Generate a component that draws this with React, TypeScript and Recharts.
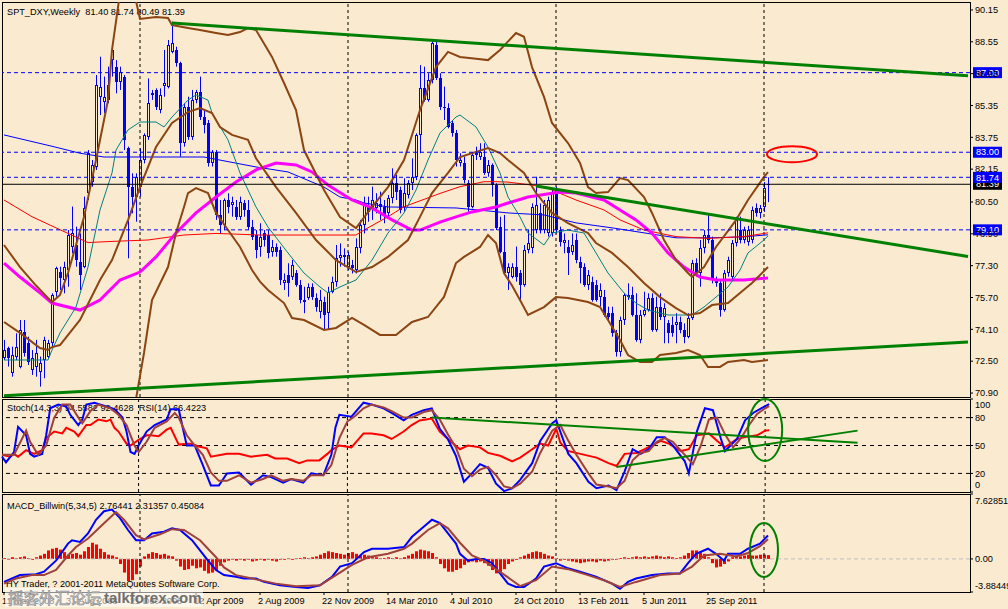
import { ComposedChart, Bar, Line, XAxis, YAxis, ReferenceLine, ReferenceDot } from 'recharts'

const BG = '#FAEAD0'
const BLUE = '#0000FF'
const BROWN = '#8B4513'
const GREEN = '#008000'
const FONT = '"Liberation Sans", Arial, sans-serif'
const FS = 9.2

// weekly OHLC, 11 May 2008 .. Jan 2012
const OPEN = [
  72.64, 73.15, 71.89, 72.73, 72.23, 73.98, 73.40, 72.06, 72.23, 71.97,
  72.56, 72.73, 73.40, 75.99, 77.00, 76.58, 77.08, 78.26, 78.34, 77.50,
  77.25, 80.94, 81.52, 82.28, 85.79, 85.54, 85.63, 87.63, 87.30, 86.55,
  86.80, 83.20, 81.27, 80.77, 81.27, 82.61, 83.78, 85.88, 86.13, 85.12,
  86.33, 86.30, 88.05, 88.14, 87.47, 83.45, 85.29, 83.78, 85.63, 86.04,
  84.79, 84.45, 82.44, 83.03, 79.85, 79.34, 80.60, 80.35, 80.27, 79.76,
  80.43, 80.10, 79.26, 78.84, 78.26, 78.92, 78.84, 78.00, 78.26, 78.09,
  76.41, 76.83, 76.75, 76.91, 76.33, 75.49, 75.66, 76.24, 75.66, 74.99,
  75.49, 74.91, 75.99, 76.50, 77.67, 77.84, 77.25, 77.33, 77.08, 78.17,
  79.34, 80.27, 80.18, 80.18, 80.40, 80.27, 79.93, 80.68, 81.44, 81.10,
  80.27, 80.85, 81.44, 81.77, 83.87, 86.21, 85.63, 86.63, 88.39, 86.71,
  85.21, 85.21, 84.45, 83.95, 82.44, 82.44, 81.44, 80.27, 82.95, 82.78,
  82.78, 81.94, 82.36, 81.35, 79.26, 78.00, 76.91, 76.75, 77.25, 76.91,
  76.33, 78.09, 78.17, 79.09, 79.93, 79.09, 78.92, 78.92, 81.10, 79.09,
  78.42, 78.26, 78.00, 78.59, 77.50, 77.25, 76.33, 76.50, 76.33, 75.74,
  75.74, 74.91, 74.91, 73.90, 72.98, 74.57, 75.83, 75.83, 74.82, 73.57,
  74.82, 75.07, 75.66, 74.07, 75.24, 74.74, 74.40, 74.32, 74.32, 74.49,
  74.07, 73.73, 74.65, 77.42, 76.91, 78.17, 78.84, 78.59, 76.58, 76.41,
  75.07, 76.91, 76.75, 78.42, 79.09, 78.59, 78.49, 78.59, 80.18, 79.93,
  80.27, 81.40,
]
const HIGH = [
  73.57, 73.23, 73.23, 73.90, 74.57, 74.57, 73.73, 73.06, 73.57, 72.73,
  73.73, 73.57, 75.91, 77.25, 77.25, 77.50, 79.09, 80.27, 79.26, 78.92,
  80.77, 83.11, 82.61, 86.88, 87.80, 86.80, 87.30, 88.22, 87.63, 87.30,
  86.88, 83.28, 81.94, 81.94, 83.20, 83.95, 86.71, 86.13, 86.21, 86.21,
  88.14, 88.64, 89.56, 88.30, 87.55, 85.46, 85.79, 86.13, 86.13, 86.80,
  85.12, 84.62, 83.11, 83.11, 80.60, 80.68, 80.94, 80.77, 80.60, 80.77,
  80.60, 80.60, 79.60, 79.09, 79.43, 79.09, 79.09, 78.59, 78.42, 78.26,
  76.91, 77.42, 77.59, 77.08, 76.58, 76.24, 76.41, 76.41, 75.91, 76.08,
  75.74, 76.24, 76.75, 78.34, 78.42, 78.17, 78.00, 77.59, 78.67, 79.60,
  80.77, 80.77, 81.27, 80.94, 81.02, 80.60, 80.85, 82.19, 81.86, 81.27,
  81.69, 81.60, 82.69, 83.95, 87.38, 87.30, 86.97, 88.64, 88.64, 86.97,
  86.30, 85.46, 84.62, 84.12, 82.95, 82.78, 81.60, 82.95, 83.28, 83.45,
  83.45, 82.61, 82.44, 81.44, 79.76, 79.85, 77.42, 77.42, 78.26, 77.08,
  78.34, 79.09, 80.43, 81.77, 80.43, 80.60, 80.77, 81.19, 81.27, 79.26,
  78.92, 78.59, 78.92, 78.92, 77.75, 77.42, 77.08, 76.75, 76.58, 76.41,
  76.08, 75.24, 75.24, 74.07, 74.74, 75.91, 76.41, 76.24, 75.91, 75.07,
  75.99, 75.91, 75.91, 75.74, 75.91, 75.41, 74.57, 74.74, 74.91, 74.74,
  74.40, 74.91, 77.59, 77.67, 78.59, 79.09, 79.85, 78.76, 76.75, 76.58,
  77.08, 77.75, 78.59, 79.76, 79.76, 79.26, 79.30, 80.27, 80.43, 80.35,
  81.50, 81.74,
]
const LOW = [
  72.56, 72.23, 71.72, 72.56, 72.14, 72.73, 72.31, 71.81, 71.72, 71.22,
  71.64, 72.64, 73.23, 75.74, 76.08, 75.91, 76.24, 77.92, 77.25, 76.08,
  77.17, 80.60, 81.27, 82.11, 84.87, 84.96, 85.46, 86.80, 85.96, 86.13,
  83.11, 77.67, 79.93, 79.51, 80.77, 82.44, 83.62, 85.63, 85.12, 84.96,
  85.79, 86.21, 87.97, 87.30, 82.78, 83.28, 83.62, 83.62, 85.46, 84.62,
  83.95, 82.28, 82.28, 79.60, 78.92, 79.09, 79.93, 79.76, 79.60, 79.60,
  79.76, 79.09, 78.59, 77.67, 77.75, 78.26, 77.67, 77.75, 77.75, 76.33,
  76.08, 75.74, 76.58, 76.24, 75.41, 74.91, 75.58, 75.58, 74.99, 74.65,
  74.07, 74.07, 75.91, 76.24, 77.25, 77.25, 77.08, 76.91, 76.91, 77.92,
  78.92, 79.51, 79.60, 79.93, 79.60, 79.43, 79.76, 80.43, 80.60, 79.93,
  80.01, 80.68, 81.10, 81.60, 82.95, 85.54, 85.54, 86.46, 86.63, 85.12,
  84.62, 84.20, 83.78, 82.28, 82.28, 81.44, 80.01, 80.18, 82.61, 82.61,
  81.86, 81.77, 80.77, 79.09, 77.92, 76.83, 76.08, 76.66, 76.50, 75.58,
  76.24, 77.92, 77.92, 78.92, 78.92, 78.92, 78.76, 78.76, 78.92, 78.26,
  77.92, 76.83, 77.84, 77.42, 76.41, 76.24, 76.08, 75.49, 75.49, 75.24,
  74.74, 74.57, 73.73, 72.73, 72.73, 74.32, 75.58, 74.74, 73.48, 73.40,
  74.74, 74.99, 73.98, 73.98, 74.57, 73.40, 73.40, 73.73, 73.40, 73.90,
  73.40, 73.65, 74.57, 76.75, 76.24, 77.92, 78.42, 76.41, 76.24, 74.74,
  74.99, 76.75, 76.58, 78.26, 78.42, 78.42, 78.30, 78.42, 79.76, 79.68,
  80.00, 80.49,
]
const CLOSE = [
  73.06, 72.64, 72.81, 73.23, 74.07, 72.90, 72.48, 72.64, 72.90, 72.40,
  73.57, 73.40, 75.83, 77.17, 76.66, 77.25, 78.84, 78.92, 77.59, 76.83,
  80.18, 82.95, 82.36, 86.38, 86.30, 85.79, 86.38, 88.14, 86.55, 87.05,
  83.62, 81.27, 80.77, 81.77, 82.61, 83.87, 85.46, 85.96, 85.29, 85.88,
  86.46, 88.39, 88.47, 87.47, 83.45, 85.29, 83.78, 85.63, 86.04, 84.79,
  84.37, 82.44, 83.03, 79.85, 79.34, 80.60, 80.27, 80.52, 79.76, 80.52,
  80.10, 79.26, 78.76, 78.09, 78.76, 78.59, 77.92, 78.26, 78.00, 76.58,
  76.58, 76.41, 77.33, 76.33, 75.58, 75.58, 76.24, 75.74, 75.24, 75.58,
  74.82, 75.99, 76.50, 77.67, 77.84, 77.75, 77.84, 77.17, 78.26, 79.34,
  80.43, 80.01, 80.60, 80.43, 80.27, 79.85, 80.68, 81.44, 81.02, 80.10,
  80.94, 81.44, 81.77, 83.87, 86.21, 85.63, 86.63, 88.47, 86.71, 85.29,
  85.29, 84.28, 83.95, 82.61, 82.61, 81.60, 80.27, 82.86, 82.86, 83.03,
  81.94, 82.36, 81.35, 79.18, 78.00, 76.91, 77.25, 77.25, 76.75, 76.33,
  78.09, 78.42, 80.27, 80.35, 79.09, 80.35, 80.60, 81.02, 79.09, 78.51,
  78.59, 77.92, 78.34, 77.59, 77.17, 76.33, 76.83, 75.58, 75.58, 76.08,
  74.82, 74.74, 73.90, 72.98, 74.57, 75.83, 75.74, 74.82, 73.57, 74.82,
  75.07, 75.66, 74.07, 75.24, 74.74, 75.16, 73.90, 73.90, 74.49, 74.07,
  73.73, 74.65, 77.42, 76.91, 78.17, 78.84, 78.59, 76.58, 76.41, 75.07,
  76.91, 77.59, 78.42, 79.60, 78.59, 79.09, 79.09, 80.10, 79.93, 80.18,
  81.19, 81.39,
]

// indicator lines: [bar, value]
const BB_UPPER = [[0,78.34],[4,77.23],[8,76.3],[12,75.47],[14,75.83],[16,76.93],[20,79.74],[23,82.61],[26,85.62],[27,88.14],[29,91.0],[31,91.6],[33,90.6],[34,89.7],[38,89.8],[41,89.75],[42,89.39],[46,89.24],[49,89.14],[53,88.99],[56,88.89],[59,89.04],[61,89.24],[63,89.14],[67,87.79],[70,86.48],[73,85.12],[75,83.11],[80,81.1],[84,79.74],[88,79.19],[92,80.25],[96,81.25],[100,82.61],[104,85.12],[108,87.28],[111,88.04],[114,87.79],[118,87.7],[121,87.63],[124,88.14],[128,88.99],[130,88.8],[132,87.28],[135,85.78],[137,84.47],[141,83.46],[144,82.46],[146,81.25],[148,80.95],[151,81.0],[154,81.7],[156,81.6],[160,80.75],[162,79.95],[165,78.59],[168,77.58],[171,76.93],[172,76.73],[175,77.23],[178,78.24],[183,79.59],[186,80.6],[190,81.76],[191,82.0]]
const BB_MID = [[0,74.47],[4,73.92],[9,73.16],[11,73.06],[12,73.21],[14,73.31],[19,74.57],[24,76.58],[27,77.58],[31,79.59],[34,81.25],[38,83.26],[42,84.47],[46,85.02],[49,85.22],[52,84.97],[54,84.27],[57,83.87],[61,83.62],[63,82.7],[68,81.25],[73,79.95],[78,78.59],[83,77.58],[88,76.98],[92,77.23],[96,77.74],[101,78.59],[104,79.75],[107,80.95],[111,81.96],[114,82.76],[121,83.21],[124,82.96],[126,82.61],[130,81.96],[133,80.95],[137,79.95],[141,79.44],[146,78.94],[148,78.44],[152,77.94],[156,77.23],[160,76.43],[164,75.72],[168,75.17],[171,74.82],[174,74.92],[177,75.32],[181,75.42],[184,75.93],[187,76.43],[191,77.23]]
const BB_LOWER = [[30,68.0],[33,70.6],[35,72.91],[37,75.57],[41,77.23],[43,78.94],[45,80.25],[46,80.95],[48,81.2],[51,80.95],[53,79.95],[56,79.09],[59,78.24],[62,77.08],[64,76.5],[66,76.08],[70,75.42],[72,74.67],[75,74.57],[80,74.07],[83,74.17],[87,74.67],[90,74.32],[94,73.82],[98,73.82],[102,74.47],[106,74.72],[110,75.73],[113,77.43],[115,77.74],[119,78.24],[121,78.84],[123,78.44],[125,76.93],[127,76.3],[129,75.57],[131,74.82],[135,75.22],[138,75.72],[141,75.67],[146,75.47],[149,75.22],[151,74.57],[154,73.56],[156,72.81],[159,72.46],[162,72.46],[164,72.81],[168,72.91],[171,73.06],[174,72.81],[176,72.21],[179,72.21],[181,72.46],[185,72.56],[187,72.46],[191,72.56]]
const MA_TEAL = [[0,72.56],[11,72.56],[12,73.06],[14,73.92],[18,75.22],[21,77.23],[24,80.1],[27,81.96],[28,83.11],[31,84.12],[34,84.52],[38,84.52],[40,84.27],[42,84.77],[46,85.62],[48,85.88],[51,85.62],[52,84.97],[56,83.62],[59,81.96],[63,80.25],[66,79.24],[71,77.94],[75,76.93],[79,76.23],[81,75.93],[84,76.23],[88,76.58],[92,77.58],[96,78.94],[100,79.95],[103,81.1],[106,82.61],[109,83.97],[113,84.77],[114,84.87],[118,84.27],[121,83.26],[124,81.96],[126,80.75],[129,79.75],[131,78.94],[135,78.34],[137,78.94],[141,79.09],[145,78.94],[148,77.94],[151,76.93],[155,75.93],[158,75.42],[161,75.07],[166,74.82],[172,74.82],[175,75.22],[178,75.72],[181,76.23],[184,77.08],[186,77.94],[190,78.59],[191,78.8]]
const MA_MAGENTA = [[0,77.43],[4,76.73],[9,75.93],[12,75.42],[19,75.07],[24,75.57],[29,76.58],[34,76.98],[38,77.74],[43,78.94],[48,79.95],[53,80.75],[58,81.5],[63,82.11],[68,82.46],[73,82.36],[77,82.01],[81,81.35],[87,80.6],[92,80.2],[97,79.6],[102,79.09],[104,79.09],[109,79.49],[113,79.75],[117,80.0],[123,80.25],[126,80.45],[131,80.75],[139,81.0],[143,80.95],[150,80.6],[154,80.1],[158,79.6],[162,78.94],[166,77.94],[170,77.23],[174,76.73],[178,76.58],[185,76.58],[191,76.68]]
const MA_RED = [[0,80.6],[7,79.76],[16,78.92],[21,78.46],[26,78.51],[36,78.59],[45,78.84],[53,78.92],[64,78.84],[88,78.84],[90,79.09],[96,79.76],[100,80.26],[109,80.93],[114,81.27],[120,81.52],[123,81.52],[126,81.5],[135,81.27],[143,80.6],[150,80.1],[154,79.6],[160,79.09],[168,78.76],[176,78.67],[185,78.76],[191,78.95]]
const MA_BLUE = [[0,83.87],[12,83.3],[19,82.95],[25,82.76],[50,82.76],[63,82.26],[71,82.01],[80,81.25],[84,80.75],[88,80.6],[90,80.45],[96,80.25],[113,80.2],[121,80.05],[126,79.95],[135,79.85],[143,79.45],[152,79.2],[160,78.95],[168,78.7],[177,78.7],[185,78.75],[191,78.85]]

const STOCH_MAIN = [[0,38],[1,32],[3,43],[4,70],[6,61],[7,41],[8,38],[10,41],[11,61],[12,90],[14,94],[16,92],[17,83],[19,72],[20,78],[21,94],[23,96],[26,92],[28,89],[30,80],[31,65],[32,43],[33,41],[34,50],[36,65],[38,72],[41,78],[42,89],[44,89],[45,69],[46,50],[48,50],[50,29],[51,18],[52,7],[54,7],[56,20],[59,21],[62,8],[65,18],[67,16],[70,10],[72,14],[75,10],[77,20],[80,18],[82,40],[83,69],[84,83],[87,81],[90,96],[92,94],[95,90],[97,85],[100,77],[102,83],[105,88],[107,90],[109,68],[111,57],[113,39],[115,11],[117,20],[119,30],[121,26],[123,9],[125,1],[127,4],[129,13],[132,31],[134,55],[137,74],[138,77],[139,65],[141,41],[143,31],[146,11],[148,4],[151,7],[153,2],[155,22],[157,46],[159,41],[161,46],[163,59],[165,59],[167,50],[170,33],[171,20],[173,65],[175,90],[177,88],[179,57],[180,44],[183,57],[185,77],[187,85],[189,90],[191,94.56]]
const STOCH_SIGNAL = [[0,40],[3,40],[6,66],[7,54],[9,40],[11,50],[13,80],[15,94],[17,94],[19,80],[20,74],[22,87],[24,94],[27,90],[29,83],[31,72],[33,50],[34,43],[36,54],[38,69],[41,76],[43,85],[44,80],[46,61],[48,50],[50,40],[52,21],[54,12],[56,12],[59,18],[62,10],[65,14],[67,18],[70,12],[72,14],[75,12],[77,18],[80,18],[82,29],[84,58],[86,76],[88,82],[90,90],[92,94],[95,91],[97,87],[100,80],[102,80],[105,86],[107,88],[109,78],[111,62],[113,48],[115,25],[117,17],[119,24],[121,27],[123,18],[125,6],[127,4],[129,9],[132,22],[134,42],[137,66],[139,72],[141,55],[143,40],[146,20],[148,8],[151,6],[153,4],[155,12],[157,34],[159,42],[161,44],[163,54],[165,58],[167,54],[170,40],[172,30],[174,50],[176,78],[178,80],[180,62],[182,48],[184,58],[186,72],[188,84],[190,90],[191,92.46]]
const RSI = [[0,40],[2,38],[3,41],[4,38],[6,45],[8,41],[10,45],[11,58],[13,65],[15,63],[16,69],[18,65],[19,60],[21,72],[22,72],[24,78],[26,76],[27,78],[28,69],[29,65],[31,52],[32,50],[34,56],[36,61],[37,61],[39,60],[41,67],[42,69],[44,51],[46,52],[47,52],[49,49],[51,47],[52,38],[56,41],[59,41],[62,38],[66,40],[68,36],[71,36],[74,31],[76,34],[79,34],[81,41],[82,45],[84,50],[87,48],[90,63],[92,63],[95,61],[97,57],[100,65],[102,72],[104,77],[107,79],[109,65],[111,57],[114,46],[116,50],[119,48],[121,42],[124,39],[127,33],[129,37],[132,46],[134,52],[136,50],[138,68],[139,53],[141,44],[144,41],[148,37],[151,31],[153,28],[155,41],[158,42],[160,46],[164,55],[166,52],[169,44],[171,46],[173,61],[176,63],[178,55],[180,48],[183,57],[185,59],[188,61],[190,66],[191,66.42]]

const MACD_MAIN = [[0,-2.7],[2,-2.3],[4,-1.9],[8,-1.8],[10,-1.5],[13,-0.2],[16,1.8],[17,2.2],[19,2.0],[21,3.0],[23,4.6],[25,5.6],[27,5.8],[29,4.8],[31,3.4],[33,2.2],[35,2.2],[37,3.0],[40,3.2],[42,3.6],[44,3.4],[47,2.2],[49,1.0],[51,-0.2],[53,-1.3],[55,-1.9],[58,-2.1],[60,-2.3],[63,-2.3],[65,-2.7],[69,-3.1],[73,-3.3],[76,-3.4],[79,-3.1],[82,-2.1],[84,-0.9],[87,-0.5],[90,0.8],[92,1.2],[96,1.2],[100,1.4],[102,2.6],[105,3.8],[107,4.6],[109,4.2],[111,3.0],[113,1.8],[114,0.6],[116,-0.2],[118,0.0],[120,0.0],[122,-0.5],[124,-1.7],[126,-2.9],[128,-3.3],[130,-3.3],[133,-2.3],[135,-0.9],[138,-0.5],[141,-1.1],[144,-1.5],[148,-2.1],[152,-2.9],[154,-3.5],[156,-2.7],[158,-2.3],[162,-1.9],[166,-1.7],[169,-1.7],[171,-0.5],[173,0.6],[176,1.2],[178,0.6],[180,-0.2],[181,0.6],[184,0.6],[186,1.2],[189,1.8],[191,2.76]]
const MACD_SIGNAL = [[0,-2.9],[3,-2.3],[7,-1.9],[10,-1.9],[13,-1.3],[16,0.4],[18,1.4],[21,2.4],[25,4.2],[28,5.5],[30,4.6],[33,2.8],[35,2.3],[39,2.9],[42,3.5],[45,3.4],[49,2.2],[53,0.2],[55,-1.0],[58,-1.9],[63,-2.4],[68,-2.9],[73,-3.2],[79,-3.1],[83,-1.9],[87,-0.7],[91,0.2],[96,0.6],[100,1.2],[102,1.8],[106,3.4],[109,4.2],[111,3.6],[114,1.9],[117,0.4],[120,-0.2],[123,-1.2],[127,-2.5],[129,-3.2],[133,-2.5],[137,-0.9],[141,-1.2],[146,-1.9],[150,-2.5],[154,-3.3],[158,-2.7],[164,-1.9],[169,-1.7],[172,-0.9],[175,0.4],[179,0.6],[183,0.3],[186,0.7],[189,1.5],[191,2.31]]
const MACD_HIST = [
  0.1, -0.1, 0.2, 0.1, 0.2, 0.3, 0.1, -0.1, 0.2, 0.4,
  0.6, 1.0, 1.2, 1.3, 1.1, 0.8, 0.5, 0.6, 0.7, 0.5,
  0.9, 1.4, 1.9, 1.7, 1.2, 0.8, 0.5, 0.4, 0.2, -0.6,
  -1.6, -2.6, -2.5, -1.8, -0.9, 0.3, 0.6, 0.8, 0.7, 0.5,
  0.6, 0.4, 0.3, -0.2, -0.9, -1.3, -1.2, -0.8, -1.1, -1.0,
  -1.4, -1.7, -1.6, -1.3, -0.8, -0.4, -0.2, -0.1, -0.2, -0.1,
  -0.2, -0.1, -0.3, -0.2, -0.1, -0.2, -0.1, -0.2, -0.3, -0.1,
  -0.1, 0.1, -0.1, 0.1, 0.1, 0.2, 0.1, 0.2, 0.3, 0.5,
  0.7, 0.9, 0.8, 0.7, 0.6, 0.5, 0.7, 0.8, 0.6, 0.4,
  0.5, 0.4, 0.3, 0.2, 0.1, 0.1, 0.2, 0.1, 0.2, 0.1,
  0.2, 0.4, 0.6, 0.9, 1.1, 1.0, 0.9, 0.7, 0.2, -0.6,
  -1.1, -1.5, -1.5, -1.3, -1.1, -0.7, -0.4, -0.3, -0.4, -0.3,
  -0.5, -0.8, -1.3, -1.7, -1.6, -1.2, -0.6, -0.3, -0.1, 0.2,
  0.4, 0.6, 0.8, 0.9, 0.8, 0.6, 0.4, 0.3, 0.1, -0.2,
  -0.1, -0.2, -0.3, -0.4, -0.5, -0.4, -0.3, -0.3, -0.4, -0.2,
  -0.3, -0.2, -0.1, -0.1, 0.1, 0.2, 0.1, 0.2, 0.3, 0.2,
  0.3, 0.2, 0.3, 0.4, 0.3, 0.2, 0.3, 0.2, 0.1, 0.2,
  0.4, 0.7, 1.0, 1.0, 0.8, 0.6, 0.2, -0.5, -1.0, -0.9,
  -0.6, -0.3, 0.2, 0.4, 0.3, 0.4, 0.5, 0.4, 0.4, 0.5,
  0.5, 0.45,
]

const PRICE_TICKS = [90.15, 88.55, 86.95, 85.35, 83.75, 82.15, 80.5, 78.9, 77.3, 75.7, 74.1, 72.5, 70.9]
const STOCH_TICKS = [0, 20, 50, 80, 100]
const MACD_TICKS = [-3.88449, 0, 7.62851]
const DATE_TICKS = [0, 16, 32, 48, 64, 80, 96, 112, 128, 144, 160, 176]
const DATE_LABELS = ['11 May 2008', '31 Aug 2008', '21 Dec 2008', '12 Apr 2009', '2 Aug 2009', '22 Nov 2009', '14 Mar 2010', '4 Jul 2010', '24 Oct 2010', '13 Feb 2011', '5 Jun 2011', '25 Sep 2011']
const LEVELS = [87.0, 83.0, 81.74, 79.1]
const LAST_PRICE = 81.39
const SEPARATORS = [34, 86, 138, 190]
const TREND_TOP = [[42, 89.49], [241, 86.84]]
const TREND_BOTTOM = [[0, 70.76], [241, 73.46]]
const TREND_MID = [[133, 81.3], [241, 77.76]]
const STOCH_TREND_A = [[107, 80], [213, 53]]
const STOCH_TREND_B = [[153, 27], [213, 66]]

const SLOTS = 242
const rows: Record<string, any>[] = Array.from({ length: SLOTS }, (_, i) => ({ i }))
OPEN.forEach((o, i) => Object.assign(rows[i], { o, c: CLOSE[i], range: [LOW[i], HIGH[i]], hist: MACD_HIST[i] }))
const put = (key: string, pts: number[][]) => pts.forEach(([b, v]) => { rows[b][key] = v })
put('bbU', BB_UPPER); put('bbM', BB_MID); put('bbL', BB_LOWER)
put('teal', MA_TEAL); put('mag', MA_MAGENTA); put('red', MA_RED); put('blue', MA_BLUE)
put('k', STOCH_MAIN); put('d', STOCH_SIGNAL); put('rsi', RSI)
put('macd', MACD_MAIN); put('sig', MACD_SIGNAL)

const seg = (pts: number[][]) => pts.map(([x, y]) => ({ x, y }))

function Candle(props: any) {
  const { x, y, width, height, payload } = props
  if (payload?.o == null) return null
  const [lo, hi] = payload.range
  const top = Math.min(y, y + height)
  const h = Math.abs(height)
  const py = (v: number) => top + ((hi - v) / (hi - lo || 1)) * h
  const cx = Math.floor(x + width / 2) + 0.5
  const yo = py(payload.o), yc = py(payload.c)
  const bTop = Math.round(Math.min(yo, yc))
  const bBot = Math.round(Math.max(yo, yc))
  const bull = payload.c >= payload.o
  let body
  if (bBot - bTop <= 1) body = <rect x={cx - 1.5} y={bTop} width={3} height={1} fill={BLUE} />
  else if (bull) body = <rect x={cx - 1} y={bTop + 0.5} width={2} height={bBot - bTop - 1} fill={BG} stroke={BLUE} strokeWidth={1} />
  else body = <rect x={cx - 1.5} y={bTop} width={3} height={bBot - bTop} fill={BLUE} />
  return (
    <g>
      <line x1={cx} x2={cx} y1={top} y2={top + h} stroke={BLUE} strokeWidth={1} />
      {body}
    </g>
  )
}

const axisTick = (fmt: (v: number) => string, shift: Record<string, number> = {}) => (p: any) => (
  <text x={p.x} y={p.y + (shift[String(p.payload.value)] ?? 0)} dy="0.35em" fontSize={FS} fontFamily={FONT} fill="#000">
    {fmt(p.payload.value)}
  </text>
)

const priceBox = (text: string, fill: string) => (p: any) => {
  const vb = p.viewBox
  const x = vb.x + vb.width + 3
  return (
    <g>
      <rect x={x} y={vb.y - 5.5} width={29} height={11} fill={fill} />
      <text x={x + 14.5} y={vb.y} dy="0.35em" textAnchor="middle" fontSize={FS} fontFamily={FONT} fill="#fff">{text}</text>
    </g>
  )
}

const DateTick = (p: any) => (
  <text x={p.x - 2} y={p.y} dy="0.71em" fontSize={FS} fontFamily={FONT} fill="#000">
    {DATE_LABELS[DATE_TICKS.indexOf(p.payload.value)]}
  </text>
)

const line = (key: string, color: string, w: number) => (
  <Line key={key} dataKey={key} stroke={color} strokeWidth={w} dot={false} activeDot={false} connectNulls isAnimationActive={false} />
)

const txt = { fontSize: FS, fontFamily: FONT, fill: '#000', whiteSpace: 'pre' } as const

export default function App() {
  const Y_AXIS = { orientation: 'right' as const, width: 38, allowDataOverflow: true, interval: 0, tickSize: 3, tickLine: { stroke: '#000' }, axisLine: false }
  return (
    <div style={{ position: 'absolute', left: 0, top: 0, width: 1008, height: 609, background: BG, overflow: 'hidden' }}>
      <svg width={1008} height={609} style={{ position: 'absolute', left: 0, top: 0 }}>
        <rect x={2.5} y={2.5} width={968} height={395} fill="none" stroke="#000" />
        <rect x={2.5} y={399.5} width={968} height={93} fill="none" stroke="#000" />
        <rect x={2.5} y={494.5} width={968} height={98} fill="none" stroke="#000" />
        <text x={7} y={14.5} style={txt}>{'SPT_DXY,Weekly  81.40 81.74 80.49 81.39'}</text>
        <text x={7} y={411} style={txt}>{'Stoch(14,3,3) 94.5582 92.4628  RSI(14) 66.4223'}</text>
        <text x={7} y={509} style={txt}>{'MACD_Billwin(5,34,5) 2.76441 2.31357 0.45084'}</text>
        <text x={6} y={587} style={txt}>{'HY Trader, ? 2001-2011 MetaQuotes Software Corp.'}</text>
      </svg>

      <div style={{ position: 'absolute', left: 0, top: 0 }}>
        <ComposedChart width={1008} height={400} data={rows} margin={{ top: 2, right: 0, bottom: 3, left: 2 }}>
          <XAxis dataKey="i" hide />
          <YAxis {...Y_AXIS} domain={[70.7, 90.55]} ticks={PRICE_TICKS} tick={axisTick(v => v.toFixed(2))} />
          {SEPARATORS.map(s => <ReferenceLine key={s} x={s} stroke="#000" strokeDasharray="3 3" />)}
          <Bar dataKey="range" barSize={3} shape={Candle} isAnimationActive={false} />
          {line('blue', BLUE, 1)}
          {line('red', '#FF0000', 1)}
          {line('mag', '#FF00FF', 3)}
          {line('teal', '#008080', 1)}
          {line('bbU', BROWN, 2)}
          {line('bbM', BROWN, 2)}
          {line('bbL', BROWN, 2)}
          <ReferenceLine y={LAST_PRICE} stroke="#000" label={priceBox(LAST_PRICE.toFixed(2), '#000')} />
          {LEVELS.map(v => (
            <ReferenceLine key={v} y={v} stroke={BLUE} strokeDasharray="4 3" label={priceBox(v.toFixed(2), BLUE)} />
          ))}
          <ReferenceLine segment={seg(TREND_TOP)} stroke={GREEN} strokeWidth={3} />
          <ReferenceLine segment={seg(TREND_BOTTOM)} stroke={GREEN} strokeWidth={3} />
          <ReferenceLine segment={seg(TREND_MID)} stroke={GREEN} strokeWidth={3} />
          <ReferenceDot x={197} y={82.9} shape={(p: any) => <ellipse cx={p.cx} cy={p.cy} rx={25} ry={8} fill="none" stroke="#FF0000" strokeWidth={2} />} />
        </ComposedChart>
      </div>

      <div style={{ position: 'absolute', left: 0, top: 397 }}>
        <ComposedChart width={1008} height={97} data={rows} margin={{ top: 2, right: 0, bottom: 2, left: 2 }}>
          <XAxis dataKey="i" hide />
          <YAxis {...Y_AXIS} domain={[0, 100]} ticks={STOCH_TICKS} tick={axisTick(v => String(v), { '100': 6, '0': -7 })} />
          {[80, 50, 20].map(v => <ReferenceLine key={v} y={v} stroke="#000" strokeDasharray="4 4" />)}
          {SEPARATORS.map(s => <ReferenceLine key={s} x={s} stroke="#000" strokeDasharray="3 3" />)}
          {line('rsi', '#FF0000', 2)}
          {line('k', BLUE, 2)}
          {line('d', '#A0403A', 2)}
          <ReferenceLine segment={seg(STOCH_TREND_A)} stroke={GREEN} strokeWidth={2} />
          <ReferenceLine segment={seg(STOCH_TREND_B)} stroke={GREEN} strokeWidth={2} />
          <ReferenceDot x={190} y={66.7} shape={(p: any) => <ellipse cx={p.cx} cy={p.cy} rx={17} ry={31} fill="none" stroke={GREEN} strokeWidth={2} />} />
        </ComposedChart>
      </div>

      <div style={{ position: 'absolute', left: 0, top: 492 }}>
        <ComposedChart width={1008} height={117} data={rows} margin={{ top: 2, right: 0, bottom: 0, left: 2 }}>
          <XAxis dataKey="i" ticks={DATE_TICKS} interval={0} height={17} tickSize={3} tickLine={{ stroke: '#000' }} axisLine={false} tick={DateTick} />
          <YAxis {...Y_AXIS} domain={[-3.88449, 7.62851]} ticks={MACD_TICKS} tick={axisTick(v => (v === 0 ? '0.00' : v.toFixed(5)), { '7.62851': 7, '-3.88449': -6 })} />
          <ReferenceLine y={0} stroke="#BDBDBD" strokeDasharray="4 3" />
          {SEPARATORS.map(s => <ReferenceLine key={s} x={s} stroke="#000" strokeDasharray="3 3" />)}
          <Bar dataKey="hist" barSize={3} fill="#FF0000" isAnimationActive={false} />
          {line('macd', BLUE, 2)}
          {line('sig', '#A0403A', 2)}
          <ReferenceDot x={190} y={1.06} shape={(p: any) => <ellipse cx={p.cx} cy={p.cy} rx={14} ry={27} fill="none" stroke={GREEN} strokeWidth={2} />} />
        </ComposedChart>
      </div>

      <svg width={1008} height={609} style={{ position: 'absolute', left: 0, top: 0, pointerEvents: 'none' }}>
        <rect x={5} y={588} width={198} height={19} fill="#ffffff" fillOpacity={0.55} />
        <text x={8} y={604} fontSize={15.5} fontFamily='"Noto Sans CJK SC", sans-serif' fill="#d8d8d8" stroke="#8a8a8a" strokeWidth={0.6}>摇客外汇论坛</text>
        <text x={104} y={603} fontSize={15} fontWeight="bold" fontFamily={FONT} fill="#707070">talkforex.com</text>
      </svg>
    </div>
  )
}
